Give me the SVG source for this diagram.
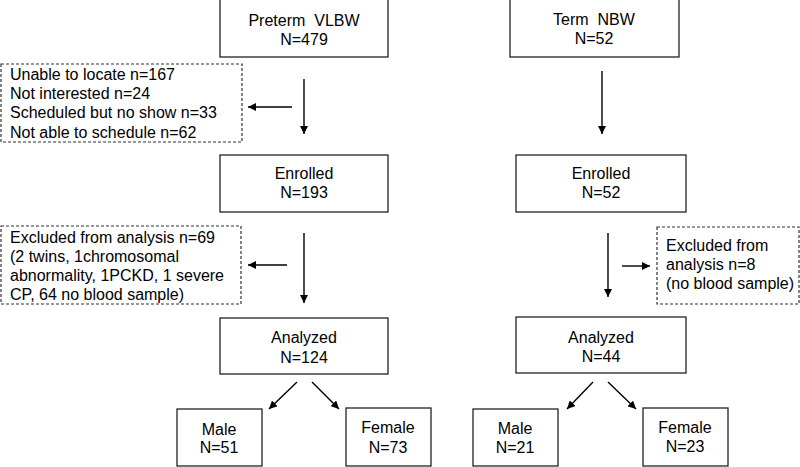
<svg xmlns="http://www.w3.org/2000/svg" width="800" height="467" viewBox="0 0 800 467">
<defs>
<marker id="ah" viewBox="0 0 10 10" refX="10" refY="5" markerWidth="8" markerHeight="8" markerUnits="userSpaceOnUse" orient="auto">
<path d="M0,0 L10,5 L0,10 z" fill="#000"/>
</marker>
</defs>
<style>
.box{fill:#fff;stroke:#222;stroke-width:1.3}
.dbox{fill:#fff;stroke:#333;stroke-width:1.2;stroke-dasharray:3,2}
.t{font-family:"Liberation Sans",Arial,sans-serif;font-size:16px;fill:#000;white-space:pre}
.c{text-anchor:middle}
.ln{stroke:#000;stroke-width:1.4;fill:none;marker-end:url(#ah)}
</style>
<rect width="800" height="467" fill="#fff"/>
<g id="connectors">
<line class="ln" x1="304" y1="79" x2="304" y2="134"/>
<line class="ln" x1="292" y1="107" x2="248" y2="107"/>
<line class="ln" x1="304" y1="233" x2="304" y2="303"/>
<line class="ln" x1="287" y1="265" x2="248" y2="265"/>
<line class="ln" x1="297" y1="382" x2="269" y2="409"/>
<line class="ln" x1="312" y1="382" x2="339" y2="409"/>
<line class="ln" x1="602" y1="71" x2="602" y2="134"/>
<line class="ln" x1="608" y1="233" x2="608" y2="297"/>
<line class="ln" x1="622" y1="266" x2="650" y2="266"/>
<line class="ln" x1="593" y1="382" x2="567" y2="409"/>
<line class="ln" x1="608" y1="382" x2="636" y2="409"/>
</g>
<g id="preterm">
<rect class="box" x="220" y="-2" width="168" height="59"/>
<text class="t c" x="304" y="26" xml:space="preserve">Preterm  VLBW</text>
<text class="t c" x="304" y="45">N=479</text>
</g>
<g id="term">
<rect class="box" x="510" y="-2" width="169" height="59"/>
<text class="t c" x="594" y="25" xml:space="preserve">Term  NBW</text>
<text class="t c" x="594" y="44">N=52</text>
</g>
<g id="excl1">
<rect class="dbox" x="1" y="64" width="241" height="78"/>
<text class="t" x="10" y="80">Unable to locate n=167</text>
<text class="t" x="10" y="99">Not interested n=24</text>
<text class="t" x="10" y="118">Scheduled but no show n=33</text>
<text class="t" x="10" y="138">Not able to schedule n=62</text>
</g>
<g id="enrolled1">
<rect class="box" x="220" y="155" width="168" height="57"/>
<text class="t c" x="304" y="179">Enrolled</text>
<text class="t c" x="304" y="198">N=193</text>
</g>
<g id="enrolled2">
<rect class="box" x="516" y="155" width="170" height="57"/>
<text class="t c" x="601" y="179">Enrolled</text>
<text class="t c" x="601" y="198">N=52</text>
</g>
<g id="excl2">
<rect class="dbox" x="1" y="226" width="240" height="78"/>
<text class="t" x="10" y="243">Excluded from analysis n=69</text>
<text class="t" x="10" y="262">(2 twins, 1chromosomal</text>
<text class="t" x="10" y="281">abnormality, 1PCKD, 1 severe</text>
<text class="t" x="10" y="300">CP, 64 no blood sample)</text>
</g>
<g id="excl3">
<rect class="dbox" x="657" y="227" width="142" height="77"/>
<text class="t" x="666" y="251">Excluded from</text>
<text class="t" x="666" y="270">analysis n=8</text>
<text class="t" x="666" y="289">(no blood sample)</text>
</g>
<g id="analyzed1">
<rect class="box" x="220" y="318" width="168" height="56"/>
<text class="t c" x="304" y="343">Analyzed</text>
<text class="t c" x="304" y="363">N=124</text>
</g>
<g id="analyzed2">
<rect class="box" x="516" y="317" width="170" height="56"/>
<text class="t c" x="601" y="343">Analyzed</text>
<text class="t c" x="601" y="362">N=44</text>
</g>
<g id="male1">
<rect class="box" x="177" y="409" width="85" height="57"/>
<text class="t c" x="219" y="435">Male</text>
<text class="t c" x="219" y="453">N=51</text>
</g>
<g id="female1">
<rect class="box" x="346" y="408" width="85" height="58"/>
<text class="t c" x="388" y="433">Female</text>
<text class="t c" x="388" y="453">N=73</text>
</g>
<g id="male2">
<rect class="box" x="473" y="409" width="85" height="57"/>
<text class="t c" x="515" y="434">Male</text>
<text class="t c" x="515" y="453">N=21</text>
</g>
<g id="female2">
<rect class="box" x="643" y="408" width="85" height="58"/>
<text class="t c" x="685" y="433">Female</text>
<text class="t c" x="685" y="452">N=23</text>
</g>
</svg>
